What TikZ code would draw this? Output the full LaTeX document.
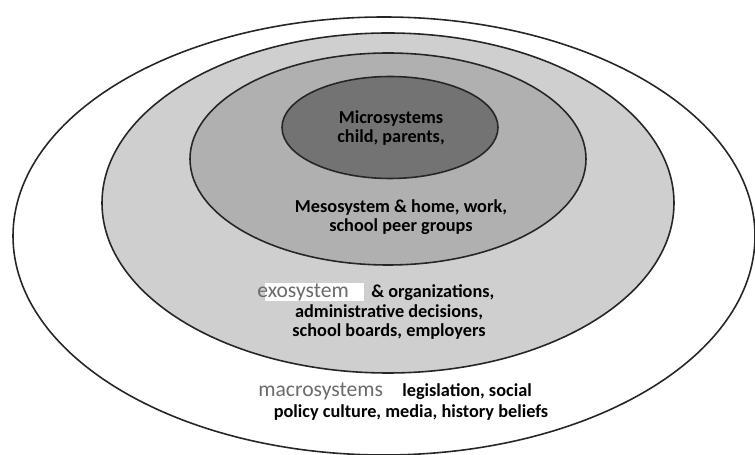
\documentclass[tikz,border=0pt]{standalone}
\usepackage{fontspec}
\setmainfont{Carlito}
\usepackage{tikz}
\usetikzlibrary{positioning}
\definecolor{exofill}{gray}{0.81}
\definecolor{mesofill}{gray}{0.69}
\definecolor{microfill}{gray}{0.45}
\definecolor{tagtext}{gray}{0.42}
\def\cx{388}
\def\macroRx{371}
\def\macroRy{219}
\def\exoRx{286}
\def\exoRy{170}
\def\mesoRx{198}
\def\mesoRy{106}
\def\microRx{108}
\def\microRy{51}

\begin{document}
\begin{tikzpicture}[x=0.02cm, y=-0.02cm,
    ring/.style={draw=black!85, line width=0.9pt},
    boldtxt/.style={font=\bfseries\fontsize{10.4}{11}\selectfont, align=center, inner sep=0pt},
    tagtxt/.style={font=\fontsize{12.3}{14}\selectfont, text=tagtext, inner sep=0pt}]
    \useasboundingbox (0,0) rectangle (755,455);

    % Anillos
    \draw[ring, fill=white] (384,236) ellipse [x radius=\macroRx, y radius=\macroRy];
    \draw[ring, fill=exofill] (\cx,203) ellipse [x radius=\exoRx, y radius=\exoRy];
    \draw[ring, fill=mesofill] (\cx,159) ellipse [x radius=\mesoRx, y radius=\mesoRy];
    \draw[ring, fill=microfill] (390,127.5) ellipse [x radius=\microRx, y radius=\microRy];

    % Microsistema
    \node[boldtxt] (micro) at (391,128) {Microsystems\\child, parents,};

    % Mesosistema
    \node[boldtxt] (meso) at (401,217) {Mesosystem \& home, work,\\school peer groups};

    % Exosistema
    \fill[white] (265,283) rectangle (364,301);
    \node[tagtxt, anchor=west] (exo) at (257,292) {exosystem};
    \node[boldtxt, anchor=west] (exoA) at (371,293) {\& organizations,};
    \node[boldtxt] (exoB) at (389,322) {administrative decisions,\\school boards, employers};

    % Macrosistema
    \node[tagtxt, anchor=west] (macro) at (258,391) {macrosystems};
    \node[boldtxt, anchor=west] (macroA) at (402,392) {legislation, social};
    \node[boldtxt] (macroB) at (411,413) {policy culture, media, history beliefs};
\end{tikzpicture}
\end{document}
